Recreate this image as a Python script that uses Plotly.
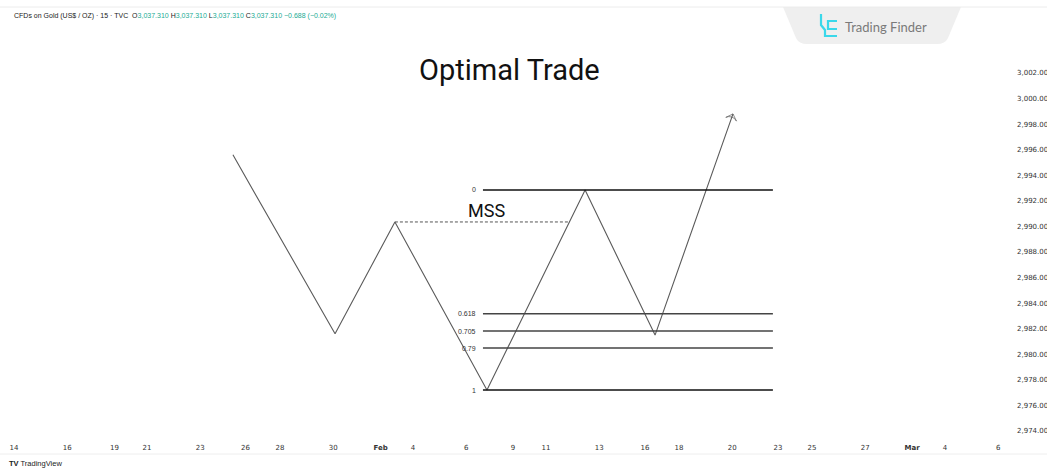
import plotly.graph_objects as go

# ---------------- data ----------------
swing_x = [8.23, 12.07, 14.32, 17.78, 21.47, 24.10, 27.03]
swing_price = [2995.6, 2981.6, 2990.35, 2977.2, 2992.85, 2981.5, 2998.8]

fib_ratios = [0, 0.618, 0.705, 0.79, 1]
fib_labels = ["0", "0.618", "0.705", "0.79", "1"]
fib_x_start = 17.63
fib_x_end = 28.53

mss_x = [14.32, 20.90]
mss_label_pos = (17.78, 2991.25)

x_tick_vals = [0, 2, 3.78, 5, 7, 8.7, 10, 12, 13.78, 15, 17, 18.76, 20, 22, 23.72,
               25, 27, 28.72, 30, 32, 33.76, 35, 37]
x_tick_text = ["14", "16", "19", "21", "23", "26", "28", "30", "<b>Feb</b>", "4", "6",
               "9", "11", "13", "16", "18", "20", "23", "25", "27", "<b>Mar</b>", "4", "6"]
y_tick_vals = [2974, 2976, 2978, 2980, 2982, 2984, 2986, 2988, 2990, 2992, 2994,
               2996, 2998, 3000, 3002]

header_ohlc = ["3,037.310", "3,037.310", "3,037.310", "3,037.310"]
header_change = "−0.688 (−0.02%)"

# ---------------- layout helpers (pixel -> paper) ----------------
W, H = 1047, 468
ML, MR, MT, MB = 0, 37, 8, 28
PW, PH = W - ML - MR, H - MT - MB


def PX(px):
    return (px - ML) / PW


def PY(py):
    return (H - MB - py) / PH


fig = go.Figure()

# price path
fig.add_trace(go.Scatter(
    x=swing_x, y=swing_price, mode="lines",
    line=dict(color="#5a5a5a", width=1.1), hoverinfo="skip", showlegend=False))

# arrow head at the end
fig.add_trace(go.Scatter(
    x=swing_x[-2:], y=swing_price[-2:], mode="markers",
    marker=dict(symbol=["circle", "arrow-wide-open"], size=[0, 8], angleref="previous",
                color="#5a5a5a", line=dict(color="#5a5a5a", width=1)),
    hoverinfo="skip", showlegend=False))

# fib levels
fib_high = swing_price[4]
fib_low = swing_price[3]
for r, lab in zip(fib_ratios, fib_labels):
    lvl = fib_high - r * (fib_high - fib_low)
    col = "#111111" if r in (0, 1) else "#444444"
    fig.add_trace(go.Scatter(
        x=[fib_x_start, fib_x_end], y=[lvl, lvl], mode="lines",
        line=dict(color=col, width=1.5), hoverinfo="skip", showlegend=False))
    fig.add_annotation(x=fib_x_start, y=lvl, text=lab, showarrow=False,
                       xanchor="right", yanchor="middle", xshift=-5,
                       font=dict(family="Liberation Sans, Arial", size=7, color="#333333"))

# MSS dashed line
fig.add_trace(go.Scatter(
    x=mss_x, y=[swing_price[2], swing_price[2]], mode="lines",
    line=dict(color="#555555", width=1, dash="3px,2px"), hoverinfo="skip", showlegend=False))
fig.add_annotation(x=mss_label_pos[0], y=mss_label_pos[1], text="MSS", showarrow=False,
                   xanchor="center", yanchor="middle",
                   font=dict(family="Roboto, Noto Sans", size=18, color="#111111"))

# title
fig.add_annotation(xref="paper", yref="paper", x=PX(509), y=PY(70), text="Optimal Trade",
                   showarrow=False, xanchor="center", yanchor="middle",
                   font=dict(family="Roboto, Noto Sans", size=29, color="#111111"))

# header
green = "#22ab94"
o, h, l, c = header_ohlc
header = (f"CFDs on Gold (US$ / OZ) · 15 · TVC  O<span style='color:{green}'>{o}</span>"
          f" H<span style='color:{green}'>{h}</span>"
          f" L<span style='color:{green}'>{l}</span>"
          f" C<span style='color:{green}'>{c}</span>"
          f" <span style='color:{green}'>{header_change}</span>")
fig.add_annotation(xref="paper", yref="paper", x=PX(12), y=PY(16), text=header,
                   showarrow=False, xanchor="left", yanchor="middle",
                   font=dict(family="Liberation Sans, Arial", size=7, color="#222222"))

# footer
fig.add_annotation(xref="paper", yref="paper", x=PX(7), y=PY(463),
                   text="<b>TV</b> TradingView", showarrow=False, xanchor="left",
                   yanchor="middle",
                   font=dict(family="Liberation Sans, Arial", size=7.5, color="#222222"))


# Trading Finder badge
def pth(points, close=True):
    s = ""
    for i, (a, b) in enumerate(points):
        s += ("M" if i == 0 else "L") + f"{PX(a):.5f},{PY(b):.5f} "
    return s + ("Z" if close else "")


badge = (f"M{PX(783):.5f},{PY(7):.5f} L{PX(796):.5f},{PY(38):.5f} "
         f"Q{PX(799):.5f},{PY(44):.5f} {PX(807):.5f},{PY(44):.5f} "
         f"L{PX(937):.5f},{PY(44):.5f} Q{PX(945):.5f},{PY(44):.5f} {PX(948):.5f},{PY(38):.5f} "
         f"L{PX(961):.5f},{PY(7):.5f} Z")
shapes = [
    dict(type="path", xref="paper", yref="paper", path=badge,
         fillcolor="#efefef", line=dict(width=0), layer="below"),
    dict(type="path", xref="paper", yref="paper",
         path=pth([(821, 14), (821, 25), (825, 30), (825, 36), (837, 36)], close=False),
         line=dict(color="#3ad8ea", width=2.2)),
    dict(type="path", xref="paper", yref="paper",
         path=pth([(837, 21), (828, 21), (828, 29), (837, 29)], close=False),
         line=dict(color="#3ad8ea", width=2.2)),
    # top border & bottom separator
    dict(type="line", xref="paper", yref="paper", x0=0, x1=PX(W), y0=PY(7), y1=PY(7),
         line=dict(color="#ececec", width=1)),
    dict(type="line", xref="paper", yref="paper", x0=0, x1=PX(W), y0=PY(454), y1=PY(454),
         line=dict(color="#eeeeee", width=1)),
]
fig.add_annotation(xref="paper", yref="paper", x=PX(843), y=PY(27), text="Trading Finder",
                   showarrow=False, xanchor="left", yanchor="middle",
                   font=dict(family="Lato, Noto Sans", size=13, color="#7a7a7a"))

x_lo = (0 - 14) / 26.6
x_hi = (1010 - 14) / 26.6
y_hi = 3002 + (73 - 8) / 12.786
y_lo = 3002 - (440 - 73) / 12.786

fig.update_layout(
    width=W, height=H,
    margin=dict(l=ML, r=MR, t=MT, b=MB, pad=0, autoexpand=False),
    plot_bgcolor="white", paper_bgcolor="white",
    shapes=shapes,
    xaxis=dict(range=[x_lo, x_hi], tickvals=x_tick_vals, ticktext=x_tick_text,
               showgrid=False, zeroline=False, showline=False, ticks="",
               ticklabelstandoff=2, automargin=False,
               tickfont=dict(family="DejaVu Sans", size=7, color="#333333")),
    yaxis=dict(range=[y_lo, y_hi], tickvals=y_tick_vals, tickformat=",.2f",
               side="right", showgrid=False, zeroline=False, showline=False, ticks="",
               ticklabelstandoff=6, automargin=False,
               tickfont=dict(family="DejaVu Sans", size=7, color="#333333")),
    hovermode=False,
)

fig.write_html("out.html", config={"displayModeBar": False},
               post_script="document.body.style.margin='0';document.body.style.overflow='hidden';")
